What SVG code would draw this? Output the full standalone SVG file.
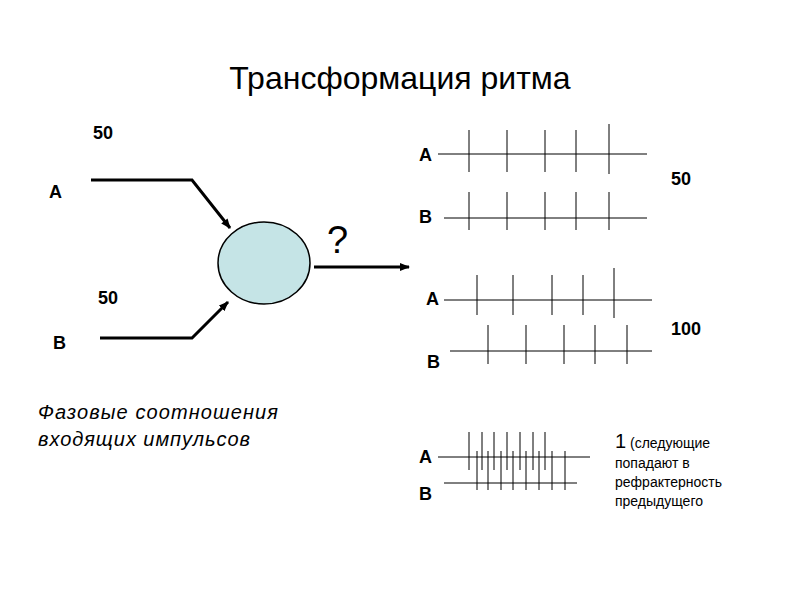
<svg xmlns="http://www.w3.org/2000/svg" width="800" height="600" viewBox="0 0 800 600">
<defs>
<marker id="ah" markerWidth="10" markerHeight="8" refX="9" refY="4" orient="auto" markerUnits="userSpaceOnUse"><path d="M0,0 L10,4 L0,8 Z" fill="#000"/></marker>
<style>
text{font-family:"Liberation Sans",Arial,sans-serif;fill:#000}
.b{font-weight:bold;font-size:18px}
.c{stroke:#000;stroke-width:3;fill:none}
.l{stroke:#000;stroke-width:1;fill:none}
</style>
</defs>
<rect width="800" height="600" fill="#fff"/>
<text x="400" y="89" font-size="32" text-anchor="middle">Трансформация ритма</text>
<g id="labels-left">
<text class="b" x="93" y="139">50</text>
<text class="b" x="49" y="198">А</text>
<text class="b" x="98" y="304">50</text>
<text class="b" x="53" y="349">В</text>
<text x="38" y="419" font-size="20" font-style="italic" textLength="240">Фазовые соотношения</text>
<text x="38" y="446" font-size="20" font-style="italic" textLength="212">входящих импульсов</text>
</g>
<g id="neuron"><ellipse cx="264" cy="263" rx="46" ry="41" fill="#c5e4e6" stroke="#000" stroke-width="1.5"/>
<text x="327" y="253" font-size="38">?</text></g>
<g id="connectors">
<polyline class="c" points="91,180 192,180 230,228" marker-end="url(#ah)"/>
<polyline class="c" points="100,338 192,338 228,302" marker-end="url(#ah)"/>
<line class="c" x1="314" y1="267" x2="409" y2="267" marker-end="url(#ah)"/>
</g>
<g id="train1">
<text class="b" x="419" y="161">А</text>
<line class="l" x1="438" y1="154" x2="647" y2="154"/>
<path class="l" d="M469,130V172M507,130V172M545,130V172M576,130V172M609,124V174"/>
<text class="b" x="419" y="223">В</text>
<line class="l" x1="444" y1="218" x2="647" y2="218"/>
<path class="l" d="M469,192V230M507,192V230M545,192V230M576,192V230M609,192V230"/>
<text class="b" x="671" y="185">50</text>
</g>
<g id="train2">
<text class="b" x="426" y="305">А</text>
<line class="l" x1="444" y1="300" x2="652" y2="300"/>
<path class="l" d="M477,275V315M513,275V315M552,275V315M583,275V315M614,268V318"/>
<text class="b" x="427" y="368">В</text>
<line class="l" x1="450" y1="351" x2="652" y2="351"/>
<path class="l" d="M488,325V364M526,325V364M564,325V364M595,325V364M627,325V364"/>
<text class="b" x="671" y="335">100</text>
</g>
<g id="train3">
<text class="b" x="419" y="463">А</text>
<line class="l" x1="438" y1="457" x2="590" y2="457"/>
<path class="l" d="M469,432V470M482,432V470M494,432V470M507,432V470M520,432V470M533,432V470M545,432V470"/>
<text class="b" x="419" y="500">В</text>
<line class="l" x1="444" y1="483" x2="577" y2="483"/>
<path class="l" d="M477,451V490M488,451V490M501,451V490M513,451V490M526,451V490M539,451V490M552,451V490M565,451V490"/>
<text x="615" y="448" font-size="14"><tspan font-size="20">1</tspan> (следующие</text>
<text x="615" y="468" font-size="14">попадают в</text>
<text x="615" y="487" font-size="14">рефрактерность</text>
<text x="615" y="506" font-size="14">предыдущего</text>
</g>
</svg>
